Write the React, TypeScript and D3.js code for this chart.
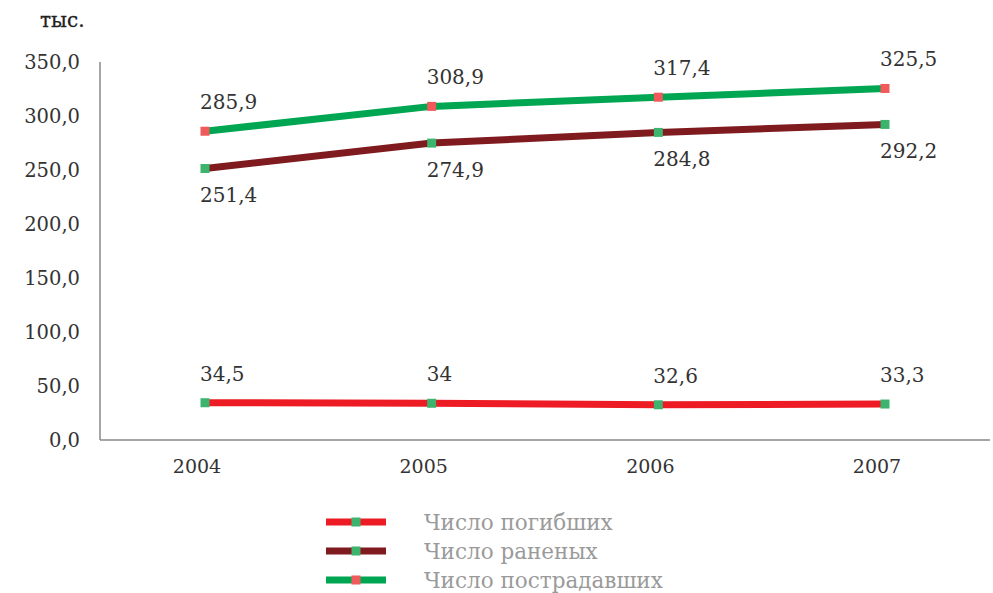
import React from "react";
import * as d3 from "d3";

const years = ["2004", "2005", "2006", "2007"];
const killed = [34.5, 34, 32.6, 33.3];
const wounded = [251.4, 274.9, 284.8, 292.2];
const victims = [285.9, 308.9, 317.4, 325.5];
const killedLabels = ["34,5", "34", "32,6", "33,3"];
const woundedLabels = ["251,4", "274,9", "284,8", "292,2"];
const victimsLabels = ["285,9", "308,9", "317,4", "325,5"];
const yTicks = [0, 50, 100, 150, 200, 250, 300, 350];
const seriesNames = ["Число погибших", "Число раненых", "Число пострадавших"];

const FONT = "'DejaVu Serif', serif";

export default function App() {
  const W = 993, H = 593;
  const x = d3.scalePoint<string>().domain(years).range([205, 885]);
  const y = d3.scaleLinear().domain([0, 350]).range([440, 62]);
  const line = d3.line<number>().x((_, i) => x(years[i])!).y((d) => y(d));
  const fmt = (v: number) => d3.format(".1f")(v).replace(".", ",");

  const series = [
    { vals: killed, labels: killedLabels, color: "#ed1c24", marker: "#3cb46e", off: -22 },
    { vals: wounded, labels: woundedLabels, color: "#7f1a1f", marker: "#3cb46e", off: 34 },
    { vals: victims, labels: victimsLabels, color: "#00a651", marker: "#f05a5a", off: -22 },
  ];

  const ms = 9;
  return (
    <svg width={W} height={H} style={{ position: "absolute", left: 0, top: 0, background: "#fff" }}>
      <text x={40} y={27} fontFamily={FONT} fontSize={20} fill="#222" stroke="#222" strokeWidth={0.3}>тыс.</text>
      <line x1={100} x2={100} y1={62} y2={440} stroke="#888" strokeWidth={1.5} />
      <line x1={100} x2={990} y1={440} y2={440} stroke="#888" strokeWidth={1.5} />
      {yTicks.map((t) => (
        <text key={t} x={80} y={y(t)} dy="0.35em" textAnchor="end" fontFamily={FONT} fontSize={19.5} fill="#333">
          {fmt(t)}
        </text>
      ))}
      {years.map((yr) => (
        <text key={yr} x={x(yr)! - 8} y={473} textAnchor="middle" fontFamily={FONT} fontSize={19} fill="#333">
          {yr}
        </text>
      ))}
      {series.map((s, si) => (
        <g key={si}>
          <path d={line(s.vals)!} fill="none" stroke={s.color} strokeWidth={7} />
          {s.vals.map((v, i) => (
            <rect key={i} x={x(years[i])! - ms / 2} y={y(v) - ms / 2} width={ms} height={ms} fill={s.marker} />
          ))}
          {s.vals.map((v, i) => (
            <text key={"l" + i} x={x(years[i])! - 5} y={y(v) + s.off} fontFamily={FONT} fontSize={20} fill="#333">
              {s.labels[i]}
            </text>
          ))}
        </g>
      ))}
      {series.map((s, si) => {
        const ly = 522 + si * 29;
        return (
          <g key={"lg" + si}>
            <line x1={326} x2={386} y1={ly} y2={ly} stroke={s.color} strokeWidth={7} />
            <rect x={356 - ms / 2} y={ly - ms / 2} width={ms} height={ms} fill={s.marker} />
            <text x={424} y={ly} dy="0.35em" fontFamily={FONT} fontSize={21.5} fill="#9a9a9a">
              {seriesNames[si]}
            </text>
          </g>
        );
      })}
    </svg>
  );
}
